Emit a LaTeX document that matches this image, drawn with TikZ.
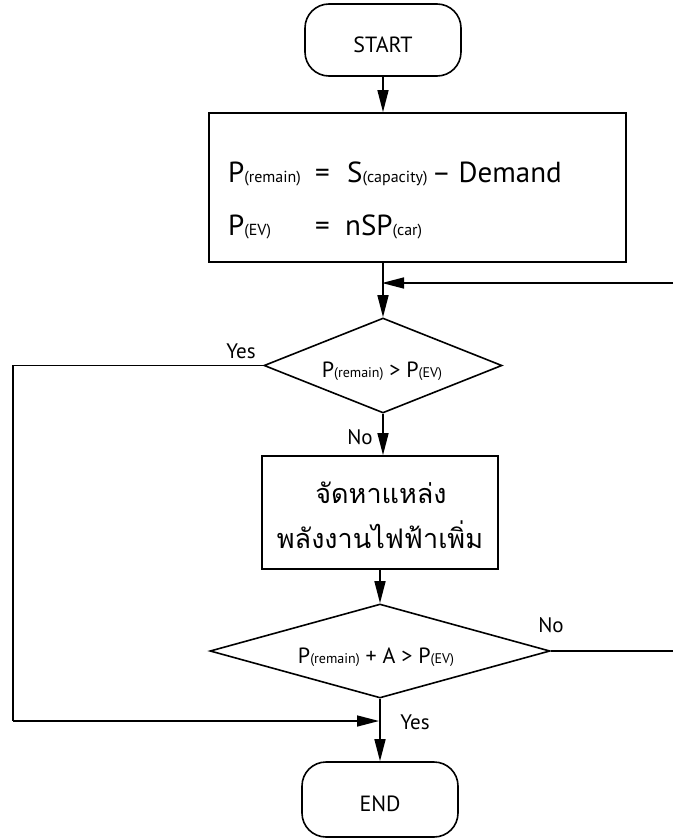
\documentclass[tikz,border=0pt]{standalone}
\usepackage{fontspec}
\setmainfont{PT Sans}
\newfontfamily\thaifont[Script=Thai]{Loma}
\usetikzlibrary{arrows.meta,shapes.geometric}
\newcommand{\fsBig}{\fontsize{29}{34}\selectfont}
\newcommand{\fsSub}{\fontsize{16}{19}\selectfont}
\newcommand{\fsMid}{\fontsize{22}{26}\selectfont}
\newcommand{\fsDSub}{\fontsize{14}{17}\selectfont}
\newcommand{\fsLab}{\fontsize{21}{25}\selectfont}
\newcommand{\fsThai}{\fontsize{27}{32}\selectfont}
\tikzset{
  line/.style={line width=1.5pt},
  arr/.style={line width=1.5pt,-{Triangle[length=22pt,width=11pt]}},
  term/.style={draw,line width=1.6pt,rounded corners=24pt,minimum width=156pt,inner sep=0pt},
  termtext/.style={inner sep=0pt,anchor=base,font=\fsMid},
  proc/.style={draw,line width=1.8pt,inner sep=0pt},
  dec/.style={draw,diamond,line width=1.6pt,inner sep=0pt},
  txt/.style={inner sep=0pt,anchor=base west},
  lab/.style={inner sep=0pt,font=\fsLab},
}
\begin{document}
\begin{tikzpicture}[x=1pt,y=-1pt]
\useasboundingbox (0,0) rectangle (673,838);
% shapes
\node[term,minimum height=72pt] (start) at (383,40) {};
\node[termtext] (startT) at (383,52) {START};
\node[proc,minimum width=417pt,minimum height=149pt] (box1) at (417.5,187.5) {};
\node[dec,minimum width=238pt,minimum height=95pt] (d1) at (383,365.5) {};
\node[proc,minimum width=236pt,minimum height=113pt] (box2) at (380,512.5) {};
\node[dec,minimum width=340pt,minimum height=94pt] (d2) at (380,651) {};
\node[term,minimum height=75pt] (end) at (380,799.5) {};
\node[termtext] (endT) at (380,811) {END};
% texts in box1
\node[txt] (t1a) at (228,182) {\fsBig P\fsSub(remain)};
\node[txt] (t1b) at (315,182) {\fsBig=};
\node[txt] (t1c) at (347,182) {\fsBig S\fsSub(capacity) \fsBig– Demand};
\node[txt] (t2a) at (228,235) {\fsBig P\fsSub(EV)};
\node[txt] (t2b) at (315,235) {\fsBig=};
\node[txt] (t2c) at (345,235) {\fsBig nSP\fsSub(car)};
% diamond texts
\node[inner sep=0pt,anchor=base] (d1t) at (382,377) {\fsMid P\fsDSub(remain)\fsMid{} > P\fsDSub(EV)};
\node[inner sep=0pt,anchor=base] (d2t) at (376,663) {\fsMid P\fsDSub(remain)\fsMid{} + A > P\fsDSub(EV)};
% thai
\node[inner sep=0pt,anchor=base] (th1) at (381,503) {\thaifont\fsThai จัดหาแหล่ง};
\node[inner sep=0pt,anchor=base] (th2) at (380,548) {\thaifont\fsThai พลังงานไฟฟ้าเพิ่ม};
% labels
\node[lab] (yes1) at (241,351) {Yes};
\node[lab] (no1) at (360,437) {No};
\node[lab] (no2) at (551,625) {No};
\node[lab] (yes2) at (415,722) {Yes};
% coordinates
\coordinate (fbR) at (673,283);
\coordinate (fbL) at (382,283);
\coordinate (cTL) at (13,365.5);
\coordinate (cBL) at (13,721);
\coordinate (mJ) at (379,721);
\coordinate (noR) at (673,651);
% connectors
\draw[arr] (start.south) -- (start.south |- box1.north);
\draw[arr] (box1.south -| d1.north) -- (d1.north);
\draw[arr] (fbR) -- (fbL);
\draw[arr] (d1.south) -- (d1.south |- box2.north);
\draw[line] (d1.west) -- (cTL) -- (cBL);
\draw[arr] (cBL) -- (mJ);
\draw[arr] (box2.south -| d2.north) -- (d2.north);
\draw[line] (d2.east) -- (noR);
\draw[arr] (d2.south) -- (end.north);
\end{tikzpicture}
\end{document}
